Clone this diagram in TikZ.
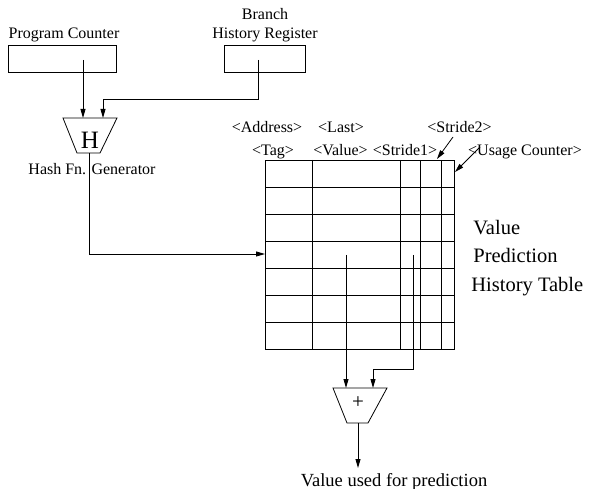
\documentclass[tikz,border=0pt]{standalone}
\usepackage{fontspec}
\setmainfont{Liberation Serif}
\usetikzlibrary{arrows.meta}
\begin{document}
\begin{tikzpicture}[x=1pt,y=-1pt,line width=0.8pt,
  arr/.style={-{Triangle[length=9pt,width=5pt]}},
  lbl/.style={font=\fontsize{16}{18}\selectfont,inner sep=0pt,anchor=base},
  big/.style={font=\fontsize{20.5}{24}\selectfont,inner sep=0pt,anchor=base west},
  reg/.style={draw,minimum height=27pt,inner sep=0pt}]
\useasboundingbox (0,0) rectangle (592,489);

% registers
\node[reg,minimum width=108pt] (pc) at (62,58.5) {};
\node[reg,minimum width=81pt] (bhr) at (265,58.5) {};
\node[lbl] (pcl) at (64,39) {Program Counter};
\node[lbl] (bhrl1) at (265,19.5) {Branch};
\node[lbl] (bhrl2) at (265,39) {History Register};

% hash generator
\draw (63,118) -- (117,118) -- (100,153) -- (77,153) -- cycle;
\node[font=\fontsize{25}{25}\selectfont,inner sep=0pt,anchor=base] (H) at (90,148.3) {H};
\node[lbl] (hashl) at (92,175) {Hash Fn. Generator};
\coordinate (pcs) at (83,60);
\coordinate (hin1) at (83,118);
\coordinate (bhrs) at (258,60);
\coordinate (hin2) at (103,118);
\coordinate (hout) at (89,153);
\draw[arr] (pcs) -- (hin1);
\draw[arr] (bhrs) -- (258,99) -| (hin2);

% table
\draw (265,160) rectangle (454,349);
\foreach \yy in {187,214,241,268,295,322} \draw (265,\yy) -- (454,\yy);
\foreach \xx in {312,400,420,441} \draw (\xx,160) -- (\xx,349);
\coordinate (tin) at (265,254);
\draw[arr] (hout) |- (tin);

% column labels
\node[lbl] (addr) at (267,133) {<Address>};
\node[lbl] (last) at (341,133) {<Last>};
\node[lbl] (str2) at (459.5,133) {<Stride2>};
\node[lbl] (tag) at (273,156) {<Tag>};
\node[lbl] (val) at (340.5,156) {<Value>};
\node[lbl] (str1) at (405,156) {<Stride1>};
\node[lbl] (usage) at (525,156) {<Usage Counter>};
\coordinate (s2s) at (453,137);
\coordinate (s2e) at (437,159);
\coordinate (ucs) at (480,147);
\coordinate (uce) at (455,172);
\draw[arr] (s2s) -- (s2e);
\draw[arr] (ucs) -- (uce);

\node[big] (v1) at (473,235) {Value};
\node[big] (v2) at (473,263) {Prediction};
\node[big] (v3) at (471,291) {History Table};

% adder
\draw (333,388) -- (387,388) -- (368,423) -- (347,423) -- cycle;
\node[font=\fontsize{21}{21}\selectfont,inner sep=0pt] (plus) at (358,403) {+};
\coordinate (vs) at (346,255);
\coordinate (ain1) at (346,388);
\coordinate (ss) at (413,255);
\coordinate (ain2) at (373,388);
\coordinate (aout) at (358,423);
\coordinate (res) at (358,468);
\draw[arr] (vs) -- (ain1);
\draw[arr] (ss) -- (413,369) -| (ain2);
\draw[arr] (aout) -- (res);
\node[font=\fontsize{18.5}{20}\selectfont,inner sep=0pt,anchor=base] (outl) at (394,486) {Value used for prediction};
\end{tikzpicture}
\end{document}
